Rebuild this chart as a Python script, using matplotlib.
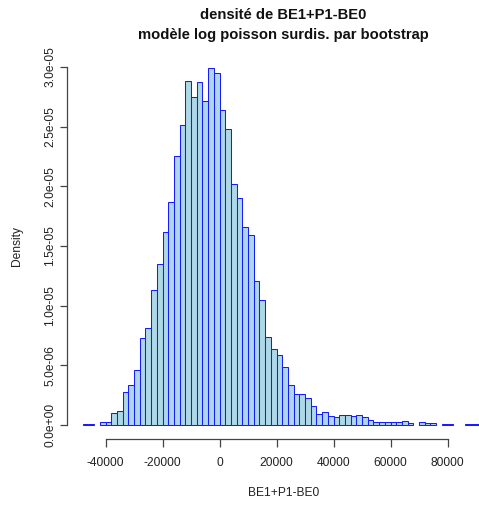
import numpy as np
import matplotlib.pyplot as plt
from matplotlib.ticker import FuncFormatter

plt.rcParams['font.family'] = ['Liberation Sans', 'DejaVu Sans']

# histogram of BE1+P1-BE0, bins of width 2000 starting at -48000
bin_start = -48000
bin_width = 2000
density = np.array([
    0.07, 0.07, 0.0, 0.23, 0.25, 1.0, 1.16, 2.8, 3.35, 4.58,
    7.31, 8.12, 11.3, 13.46, 16.2, 18.7, 22.5, 25.1, 28.8, 27.5,
    28.7, 27.1, 29.9, 29.5, 26.4, 24.8, 20.2, 19.0, 16.6, 15.9,
    12.1, 10.5, 7.37, 6.34, 5.86, 4.83, 3.35, 2.62, 2.62, 2.26,
    1.56, 0.89, 1.06, 0.78, 0.70, 0.81, 0.81, 0.75, 0.81, 0.70,
    0.45, 0.22, 0.28, 0.28, 0.28, 0.28, 0.33, 0.14, 0.0, 0.28,
    0.14, 0.14, 0.0, 0.07, 0.07, 0.0, 0.0, 0.07, 0.07, 0.07,
]) * 1e-6

x_ticks = [-40000, -20000, 0, 20000, 40000, 60000, 80000]
y_ticks = [0, 5e-6, 1e-5, 1.5e-5, 2e-5, 2.5e-5, 3e-5]

title1 = "densité de BE1+P1-BE0"
title2 = "modèle log poisson surdis. par bootstrap"
xlab = "BE1+P1-BE0"
ylab = "Density"

left_edges = bin_start + bin_width * np.arange(len(density))
keep = density > 0

fig = plt.figure(figsize=(4.79, 5.07), dpi=100)
ax = fig.add_axes([0.1392, 0.1335, 1.0438 - 0.1392, 0.7606])

ax.bar(left_edges[keep], density[keep], width=bin_width, align='edge',
       color='#ADD8E6', edgecolor='#1A1AFF', linewidth=0.75)

ax.set_xlim(-53630, 98380)
ax.set_ylim(-1.198e-6, 3.110e-5)

for s in ['top', 'right']:
    ax.spines[s].set_visible(False)
ax.spines['left'].set_bounds(0, 3e-5)
ax.spines['bottom'].set_bounds(-40000, 80000)
for s in ['left', 'bottom']:
    ax.spines[s].set_color('#444444')
    ax.spines[s].set_linewidth(0.9)

ax.set_xticks(x_ticks)
ax.set_xticklabels([str(v) for v in x_ticks])
ax.set_yticks(y_ticks)
ax.yaxis.set_major_formatter(FuncFormatter(lambda v, p: "%.1e" % v))
ax.tick_params(length=5.4, width=0.9, color='#444444', labelsize=8.64,
               labelcolor='#222222')
ax.tick_params(axis='x', pad=7)
ax.tick_params(axis='y', pad=2, labelrotation=90)
for lab in ax.get_yticklabels():
    lab.set_va('center')

cx = 283.3 / 479
fig.text(cx, 1 - 15 / 507, title1, ha='center', va='center',
         fontsize=10.6, fontweight='bold', color='#111111')
fig.text(cx, 1 - 35 / 507, title2, ha='center', va='center',
         fontsize=10.6, fontweight='bold', color='#111111')
fig.text(cx, 1 - 493 / 507, xlab, ha='center', va='center',
         fontsize=8.64, color='#222222')
fig.text(16.7 / 479, 1 - 246.5 / 507, ylab, ha='center', va='center',
         rotation=90, fontsize=8.64, color='#222222')

fig.savefig('out.png', dpi=100)
